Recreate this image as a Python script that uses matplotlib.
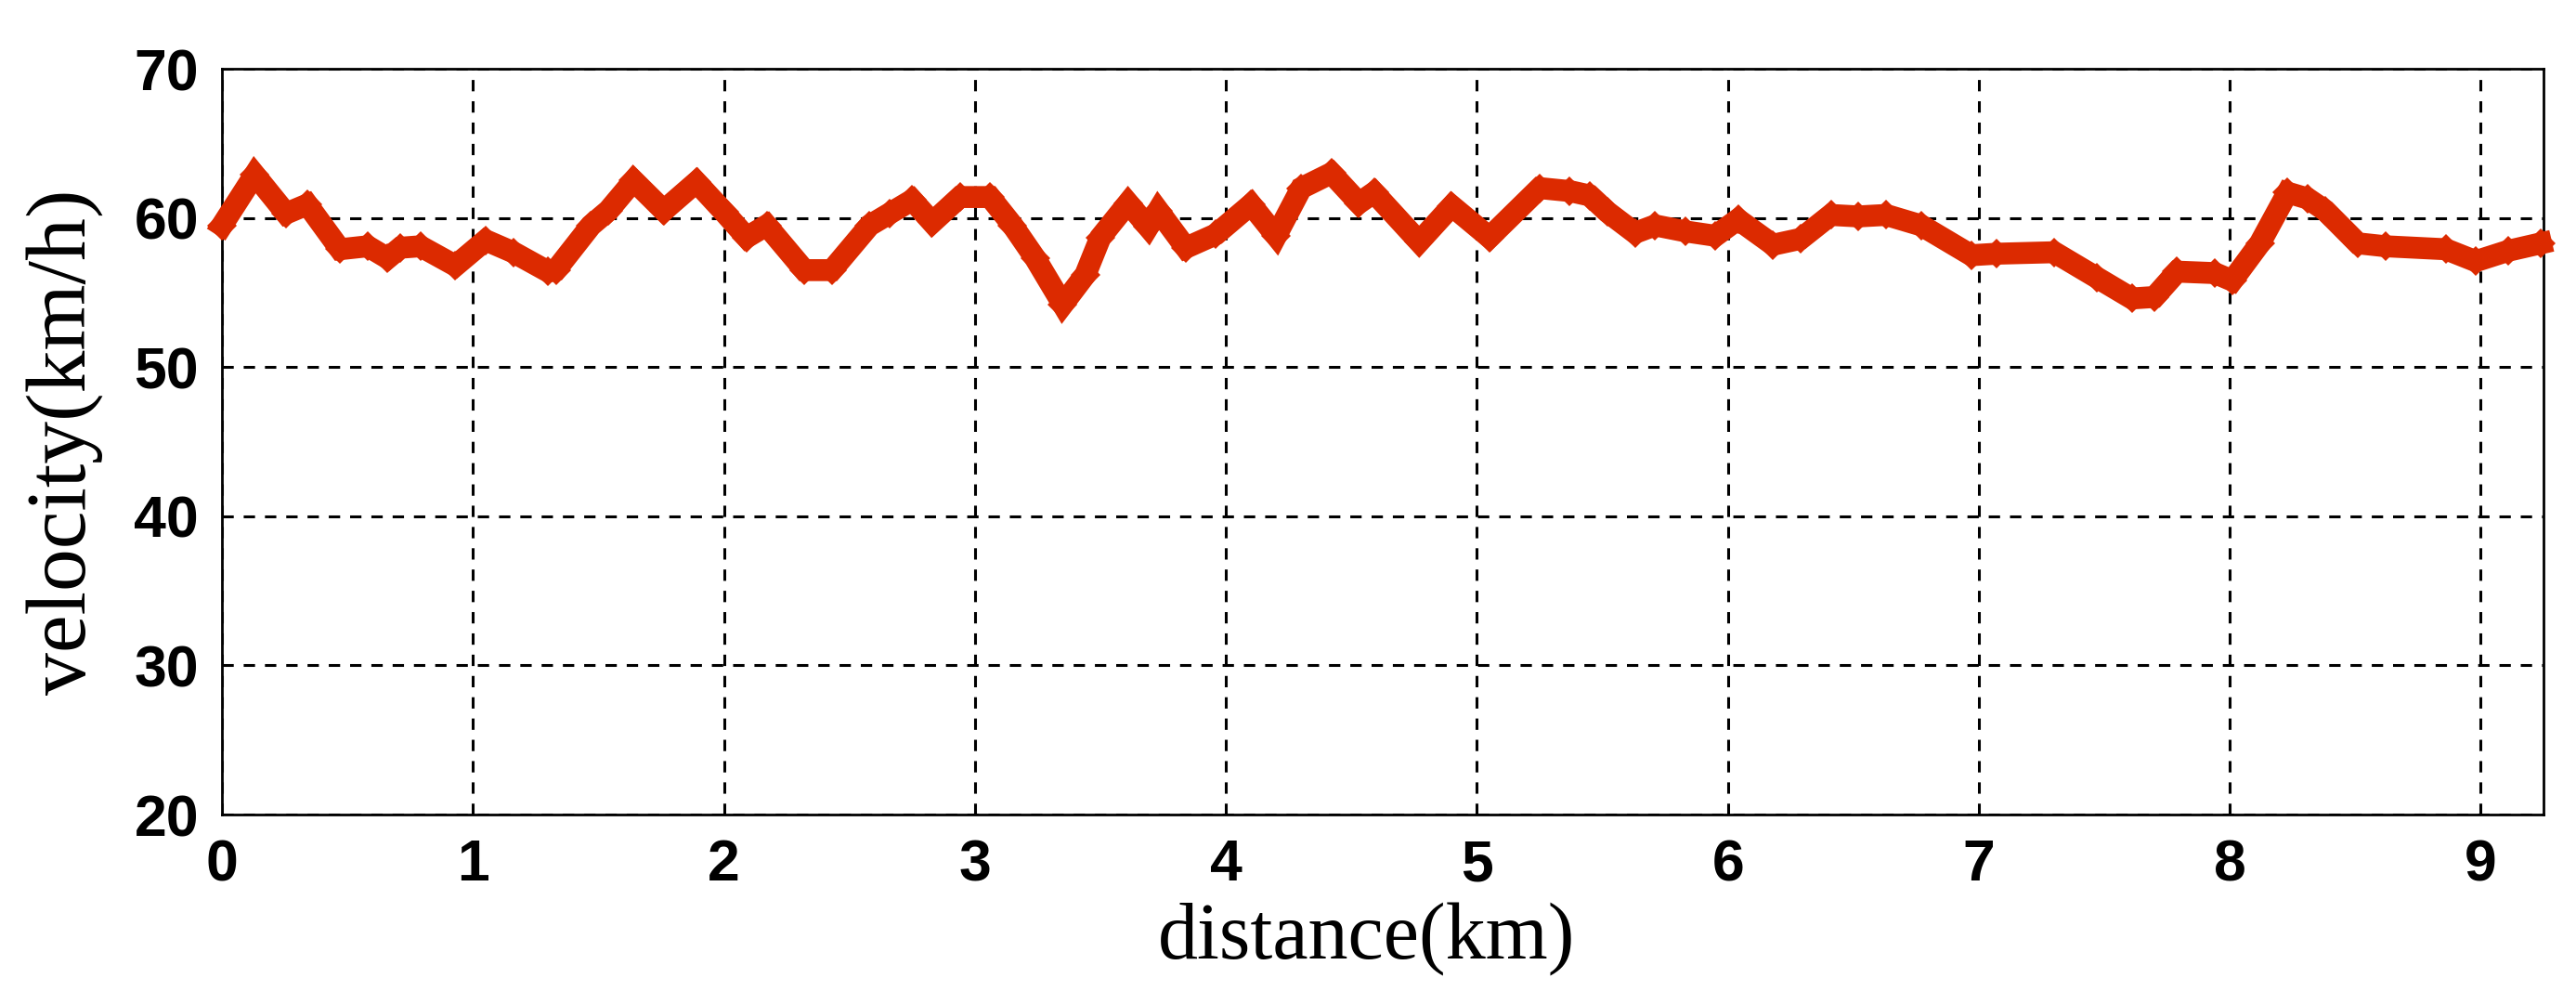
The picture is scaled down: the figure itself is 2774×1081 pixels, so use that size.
import matplotlib
matplotlib.use("Agg")
import matplotlib.pyplot as plt
from matplotlib import font_manager

distance_km = [0.00, 0.13, 0.255, 0.34, 0.47, 0.58, 0.66, 0.71, 0.79, 0.93,
               1.05, 1.16, 1.30, 1.33, 1.47, 1.54, 1.64, 1.76, 1.89, 2.00,
               2.09, 2.17, 2.32, 2.43, 2.58, 2.66, 2.75, 2.83, 2.94, 3.06,
               3.15, 3.24, 3.35, 3.44, 3.50, 3.61, 3.69, 3.73, 3.84, 3.96,
               4.10, 4.20, 4.30, 4.42, 4.53, 4.59, 4.77, 4.90, 5.05, 5.25,
               5.37, 5.45, 5.52, 5.63, 5.71, 5.83, 5.95, 6.04, 6.18, 6.29,
               6.41, 6.52, 6.63, 6.77, 6.97, 7.07, 7.30, 7.47, 7.61, 7.70,
               7.79, 7.94, 8.01, 8.12, 8.23, 8.31, 8.38, 8.51, 8.62, 8.86,
               8.98, 9.11, 9.24]
velocity_kmh = [59.5, 62.9, 60.3, 60.9, 57.9, 58.1, 57.3, 58.0, 58.1, 56.8,
                58.5, 57.7, 56.4, 56.5, 59.5, 60.5, 62.5, 60.5, 62.4, 60.4,
                58.7, 59.5, 56.5, 56.5, 59.5, 60.3, 61.2, 59.7, 61.4, 61.4,
                59.5, 57.3, 54.2, 56.2, 58.7, 61.0, 59.4, 60.5, 58.0, 58.9,
                60.9, 58.8, 62.0, 63.0, 61.0, 61.7, 58.4, 60.8, 58.7, 62.0,
                61.8, 61.5, 60.4, 59.0, 59.5, 59.1, 58.8, 59.9, 58.2, 58.6,
                60.2, 60.1, 60.2, 59.5, 57.5, 57.6, 57.7, 56.0, 54.6, 54.7,
                56.4, 56.3, 55.8, 58.3, 61.7, 61.3, 60.5, 58.3, 58.1, 57.9,
                57.1, 57.8, 58.3]

x_ticks = [0, 1, 2, 3, 4, 5, 6, 7, 8, 9]
y_ticks = [20, 30, 40, 50, 60, 70]

available = {f.name for f in font_manager.fontManager.ttflist}
tick_family = ["Liberation Sans Narrow", "Liberation Sans", "DejaVu Sans"] \
    if "Liberation Sans Narrow" in available else ["Liberation Sans", "DejaVu Sans"]
tick_size = 25 if "Liberation Sans Narrow" in available else 22.5

DPI = 200
fig = plt.figure(figsize=(2774 / DPI, 1081 / DPI), dpi=DPI)
ax = fig.add_axes([0.0862, 0.1887, 0.9012, 0.7428])

ax.plot(distance_km, velocity_kmh, color="#DC2A00", linewidth=8.5,
        solid_joinstyle="miter", marker="D", markersize=8,
        markeredgewidth=0, markerfacecolor="#DC2A00", zorder=3, clip_on=False)

ax.set_xlim(0, 9.25)
ax.set_ylim(20, 70)
ax.set_xticks(x_ticks)
ax.set_yticks(y_ticks)
ax.set_xticklabels([str(t) for t in x_ticks])
ax.set_yticklabels([str(t) for t in y_ticks])

ax.grid(True, color="black", linestyle=(0, (4, 3.5)), linewidth=1.1)
ax.set_axisbelow(True)

for sp in ax.spines.values():
    sp.set_linewidth(1.0)
    sp.set_color("black")

ax.tick_params(axis="both", direction="in", length=0, pad=9)
for lab in ax.get_xticklabels() + ax.get_yticklabels():
    lab.set_fontfamily(tick_family)
    lab.set_fontweight("bold")
    lab.set_fontsize(tick_size)

ax.set_xlabel("distance(km)", fontfamily=["Liberation Serif", "DejaVu Serif"],
              fontsize=31)
ax.xaxis.set_label_coords(0.493, -0.118)
ax.set_ylabel("velocity(km/h)", fontfamily=["Liberation Serif", "DejaVu Serif"],
              fontsize=33, labelpad=12)

fig.savefig("out.png", dpi=DPI, facecolor="white")
